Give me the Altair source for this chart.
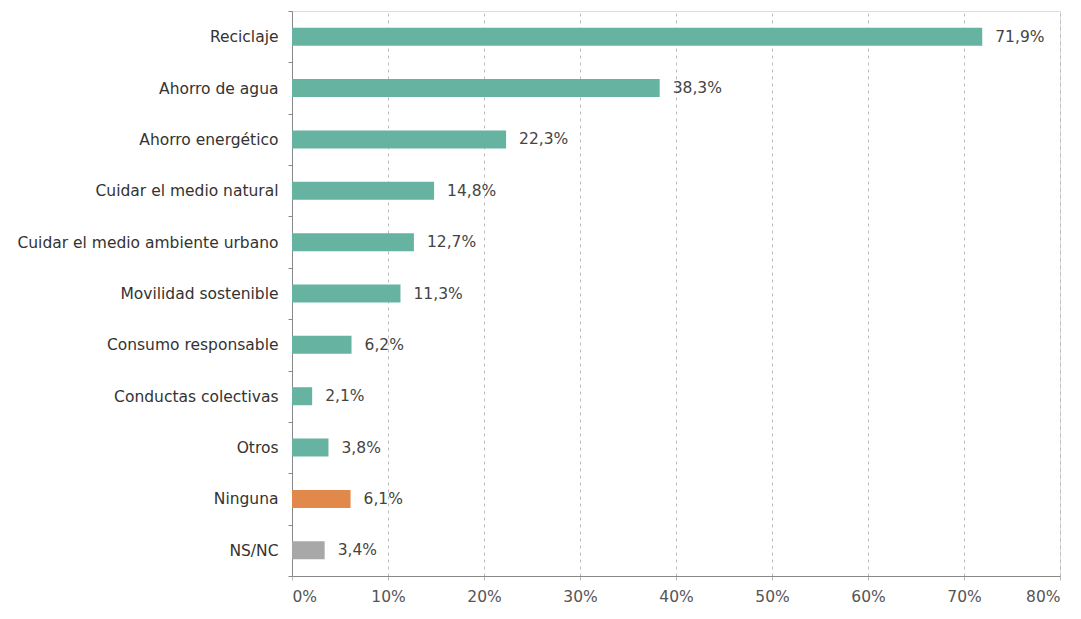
import altair as alt
import pandas as pd

categories = ["Reciclaje", "Ahorro de agua", "Ahorro energético", "Cuidar el medio natural",
              "Cuidar el medio ambiente urbano", "Movilidad sostenible", "Consumo responsable",
              "Conductas colectivas", "Otros", "Ninguna", "NS/NC"]
values = [71.9, 38.3, 22.3, 14.8, 12.7, 11.3, 6.2, 2.1, 3.8, 6.1, 3.4]
groups = ["a"] * 9 + ["n", "x"]
labels = ["71,9%", "38,3%", "22,3%", "14,8%", "12,7%", "11,3%", "6,2%", "2,1%", "3,8%", "6,1%", "3,4%"]

df = pd.DataFrame({"cat": categories, "val": values, "grp": groups, "lab": labels})

FONT = "DejaVu Sans"
FS = 15.5

y = alt.Y("cat:N", sort=categories, title=None,
          scale=alt.Scale(paddingInner=0, paddingOuter=0),
          axis=alt.Axis(tickBand="extent", tickSize=4, tickColor="#888", domainColor="#888",
                        labelFont=FONT, labelFontSize=FS, labelColor="#333", labelLimit=0,
                        labelPadding=10, grid=False))
x = alt.X("val:Q", title=None,
          scale=alt.Scale(domain=[0, 80], nice=False),
          axis=alt.Axis(values=[0, 10, 20, 30, 40, 50, 60, 70, 80], labelExpr="datum.value + '%'",
                        grid=True, gridDash=[3, 4], gridColor="#bbbbbb", tickSize=4,
                        tickColor="#bbbbbb", domainColor="#888", labelFont=FONT,
                        labelFontSize=FS, labelColor="#555", labelPadding=9))

bars = alt.Chart(df).mark_bar(size=18).encode(
    x=x, y=y,
    color=alt.Color("grp:N", scale=alt.Scale(domain=["a", "n", "x"],
                                              range=["#66b3a1", "#e0894a", "#a8a8a8"]), legend=None),
)
text = alt.Chart(df).mark_text(align="left", dx=13, font=FONT, fontSize=FS,
                               color="#444").encode(x="val:Q", y=alt.Y("cat:N", sort=categories), text="lab:N")

chart = (bars + text).properties(
    width=768, height=565,
    autosize=alt.AutoSizeParams(type="none"),
    padding={"left": 284, "top": 3, "right": 13, "bottom": 35},
).configure_view(stroke="#999", strokeDash=[3, 3]).configure(background="white")

chart.save("out.html", embed_options={"renderer": "svg", "actions": False})
